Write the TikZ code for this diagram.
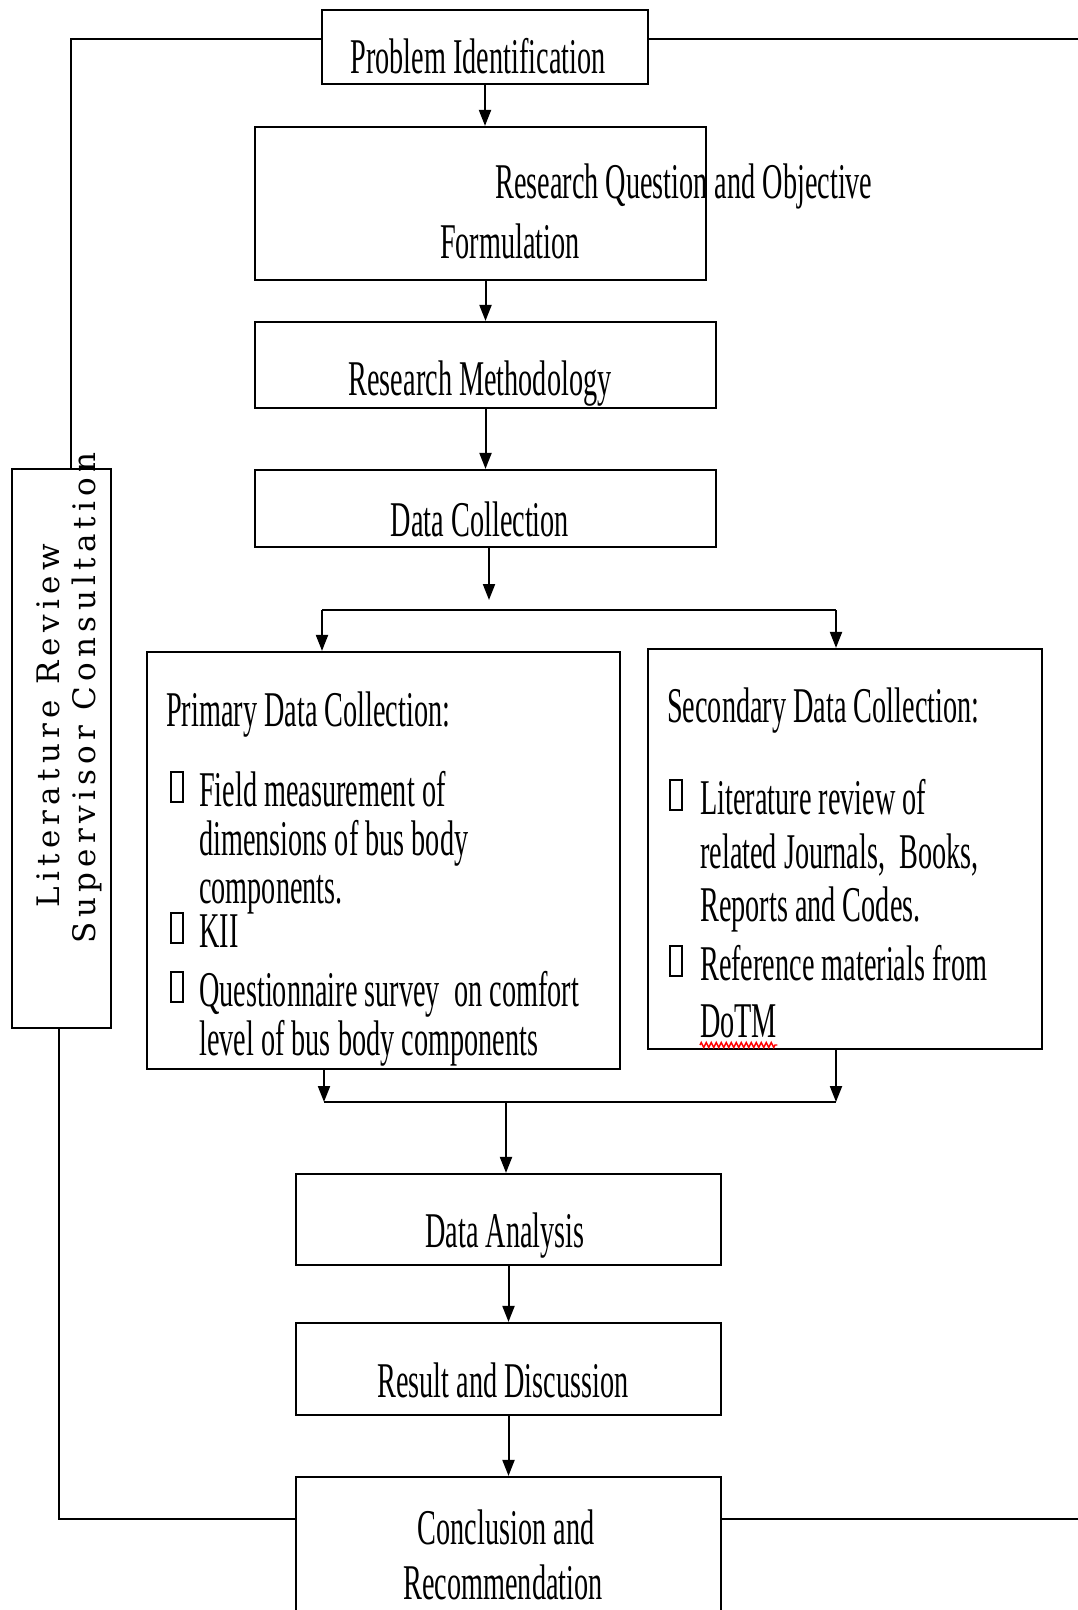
\documentclass[tikz,border=0pt]{standalone}
\usepackage{fontspec}
\setmainfont{Liberation Serif}
\newfontfamily\cond[FakeStretch=0.565]{Liberation Serif}
\newfontfamily\rotf[LetterSpace=17]{DejaVu Serif}
\usetikzlibrary{arrows.meta,decorations.pathmorphing}
\begin{document}
\begin{tikzpicture}[x=1pt,y=-1pt,
  box/.style={draw, line width=2.2pt, inner sep=0pt},
  ln/.style={line width=2pt},
  arr/.style={line width=2pt,-{Triangle[length=16pt,width=12pt]}},
  txt/.style={font=\cond\fontsize{50}{50}\selectfont, inner sep=0pt, anchor=base},
  ltxt/.style={txt, anchor=base west},
  tofu/.style={draw, line width=1.6pt, minimum width=12pt, minimum height=30pt, inner sep=0pt},
  vtxt/.style={font=\rotf\fontsize{31}{31}\selectfont, rotate=90, inner sep=0pt}]
\useasboundingbox (0,0) rectangle (1078,1610);

% boxes
\node[box, minimum width=326pt, minimum height=74pt]  (Prob) at (485,47) {};
\node[box, minimum width=451pt, minimum height=153pt] (RQ)   at (480.5,203.5) {};
\node[box, minimum width=461pt, minimum height=86pt]  (RM)   at (485.5,365) {};
\node[box, minimum width=461pt, minimum height=77pt]  (DC)   at (485.5,508.5) {};
\node[box, minimum width=473pt, minimum height=417pt] (Prim) at (383.5,860.5) {};
\node[box, minimum width=394pt, minimum height=400pt] (Sec)  at (845,849) {};
\node[box, minimum width=425pt, minimum height=91pt]  (DA)   at (508.5,1219.5) {};
\node[box, minimum width=425pt, minimum height=92pt]  (RD)   at (508.5,1369) {};
\node[box, minimum width=425pt, minimum height=148pt] (Conc) at (508.5,1551) {};
\node[box, minimum width=99pt,  minimum height=559pt] (Lit)  at (61.5,748.5) {};

% main flow
\draw[arr] (Prob.south) -- (Prob.south |- RQ.north);
\draw[arr] (RQ.south -| RM.north) -- (RM.north);
\draw[arr] (RM.south) -- (DC.north);
\coordinate (splitTip) at (489,600);
\draw[arr] (DC.south -| splitTip) -- (splitTip);
\coordinate (brL) at (322,610);
\coordinate (brR) at (836,610);
\draw[ln] (brL) -- (brR);
\draw[arr] (brL) -- (brL |- Prim.north);
\draw[arr] (brR) -- (brR |- Sec.north);
\coordinate (mgL) at (324,1102);
\coordinate (mgR) at (836,1102);
\coordinate (mgM) at (506,1102);
\draw[arr] (mgL |- Prim.south) -- (mgL);
\draw[arr] (mgR |- Sec.south) -- (mgR);
\draw[ln] (mgL) -- (mgR);
\draw[arr] (mgM) -- (mgM |- DA.north);
\draw[arr] (DA.south) -- (RD.north);
\draw[arr] (RD.south) -- (Conc.north);

% feedback loop
\coordinate (tl) at (71,39);
\coordinate (tr) at (1078,39);
\coordinate (bl) at (59,1519);
\coordinate (br) at (1078,1519);
\draw[ln] (Prob.west |- tl) -- (tl) -- (tl |- Lit.north);
\draw[ln] (Prob.east |- tr) -- (tr);
\draw[ln] (bl |- Lit.south) -- (bl) -- (bl -| Conc.west);
\draw[ln] (Conc.east |- br) -- (br);

% texts
\node[txt]  (tProb) at (478,73) {Problem Identification};
\node[ltxt] (tRQ1)  at (495,198) {Research Question and Objective};
\node[txt]  (tRQ2)  at (510,258) {Formulation};
\node[txt]  (tRM)   at (480,395) {Research Methodology};
\node[txt]  (tDC)   at (480,536) {Data Collection};

\node[ltxt] (p0) at (166,726) {Primary Data Collection:};
\node[tofu] (pb1) at (177,787) {};
\node[ltxt] (p1) at (199,806) {Field measurement of};
\node[ltxt] (p2) at (199,855) {dimensions of bus body};
\node[ltxt] (p3) at (199,903) {components.};
\node[tofu] (pb2) at (177,928) {};
\node[ltxt] (p4) at (199,947) {KII};
\node[tofu] (pb3) at (177,987) {};
\node[ltxt] (p5) at (199,1006) {Questionnaire survey\ \ on comfort};
\node[ltxt] (p6) at (199,1055) {level of bus body components};

\node[ltxt] (s0) at (667,722) {Secondary Data Collection:};
\node[tofu] (sb1) at (676,795) {};
\node[ltxt] (s1) at (700,814) {Literature review of};
\node[ltxt] (s2) at (700,868) {related Journals,\ \ Books,};
\node[ltxt] (s3) at (700,921) {Reports and Codes.};
\node[tofu] (sb2) at (676,961) {};
\node[ltxt] (s4) at (700,980) {Reference materials from};
\node[ltxt] (s5) at (700,1037) {DoTM};
\draw[red, line width=1.4pt, decorate, decoration={zigzag, segment length=5pt, amplitude=2.5pt}]
  ([yshift=-8pt]s5.base west) -- ([yshift=-8pt]s5.base east);

\node[txt] (tDA) at (505,1247) {Data Analysis};
\node[txt] (tRD) at (503,1397) {Result and Discussion};
\node[txt] (tC1) at (506,1544) {Conclusion and};
\node[txt] (tC2) at (503,1599) {Recommendation};

\node[vtxt] (lit) at (48,726) {Literature Review};
\node[vtxt] (sup) at (87,698) {Supervisor Consultation};
\end{tikzpicture}
\end{document}
